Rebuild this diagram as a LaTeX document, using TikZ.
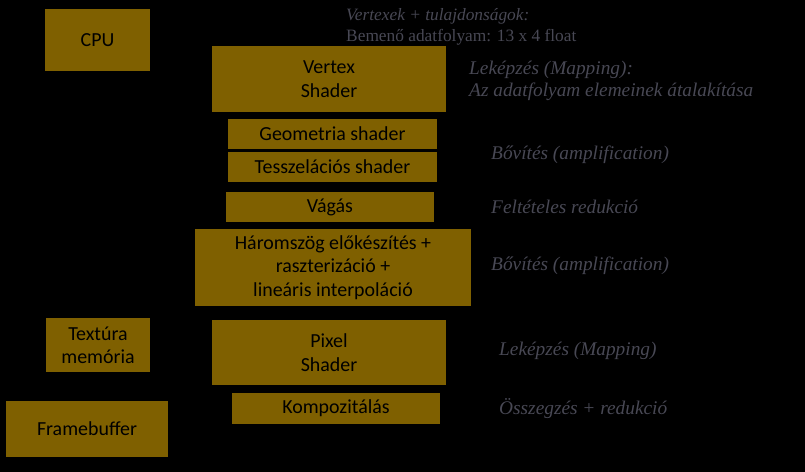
\documentclass[tikz,border=0pt]{standalone}
\usepackage{fontspec}
\setmainfont{Carlito}
\newfontfamily\notefont{Liberation Serif}
\definecolor{stagefill}{RGB}{127,96,0}
\definecolor{notegray}{RGB}{72,72,84}
\begin{document}
\begin{tikzpicture}[x=0.03cm,y=-0.03cm,
	stage/.style={fill=stagefill,inner sep=0pt,align=center,text=black,font=\fontsize{17}{20}\selectfont},
	note/.style={anchor=west,align=left,inner sep=0pt,text=notegray,font=\notefont\fontsize{16.5}{18.7}\selectfont\itshape}]
\fill[black] (0,0) rectangle (805,472);
% left column
\node[stage,minimum width=3.15cm,minimum height=1.86cm] (cpu) at (97.5,40) {CPU};
\node[stage,minimum width=3.12cm,minimum height=1.62cm] (texmem) at (98,345) {Textúra\\memória};
\node[stage,minimum width=4.86cm,minimum height=1.68cm] (fbuf) at (87,429) {Framebuffer};
% pipeline
\node[stage,minimum width=7.02cm,minimum height=1.98cm] (vshader) at (329,79) {Vertex\\Shader};
\node[stage,minimum width=6.27cm,minimum height=0.9cm] (gshader) at (332.5,134) {Geometria shader};
\node[stage,minimum width=6.27cm,minimum height=0.9cm] (tshader) at (332.5,167) {Tesszelációs shader};
\node[stage,minimum width=6.24cm,minimum height=0.9cm] (clip) at (330,207) {Vágás};
\node[stage,minimum width=8.28cm,minimum height=2.31cm] (raster) at (333,267.5) {Háromszög előkészítés +\\raszterizáció +\\lineáris interpoláció};
\node[stage,minimum width=7.02cm,minimum height=1.95cm] (pshader) at (329,352.5) {Pixel\\Shader};
\node[stage,minimum width=6.24cm,minimum height=0.93cm] (compose) at (336,408.5) {Kompozitálás};
% notes
\node[note,font=\notefont\fontsize{14.8}{17.9}\selectfont] (ninput) at (346,26.5) {\textit{Vertexek + tulajdonságok:}\\Bemenő adatfolyam: 13 x 4 float};
\node[note] (nvmap) at (469,81) {Leképzés (Mapping):\\Az adatfolyam elemeinek átalakítása};
\node[note] (ngamp) at (491,155) {Bővítés (amplification)};
\node[note] (nclip) at (491,207) {Feltételes redukció};
\node[note] (nramp) at (491,266) {Bővítés (amplification)};
\node[note] (npmap) at (499,351) {Leképzés (Mapping)};
\node[note] (ncomp) at (499,409) {Összegzés + redukció};
\end{tikzpicture}
\end{document}
